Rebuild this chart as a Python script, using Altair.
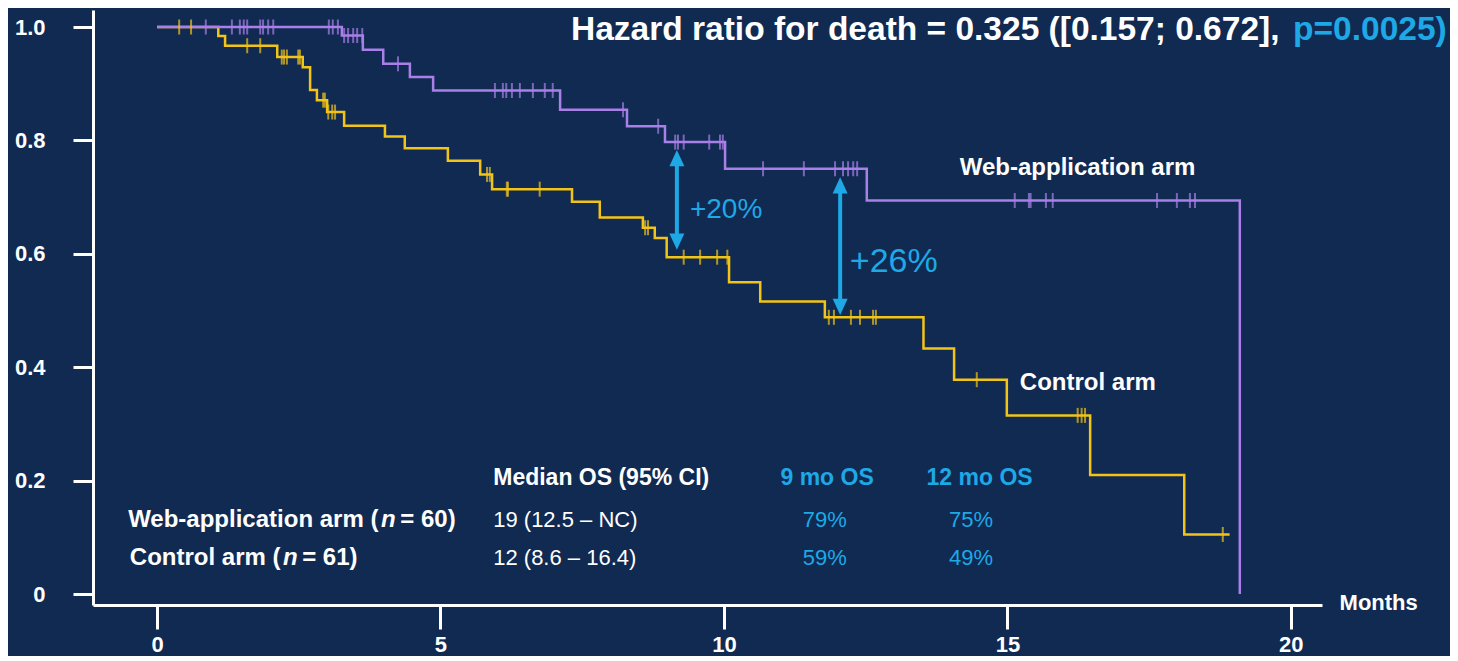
import altair as alt
import pandas as pd
from bisect import bisect_right

BG = "#112a52"
PURPLE = "#a97fe8"
GOLD = "#f2c417"
BLUE = "#1ea8e6"
WHITE = "#ffffff"
FONT = "Liberation Sans"

# ---- Kaplan-Meier step data (months, survival) ----
web_times = [0, 3.26, 3.63, 3.99, 4.46, 4.87, 7.11, 8.29, 8.96, 10.02, 12.52, 19.10]
web_surv = [1.0, 0.985, 0.96, 0.935, 0.912, 0.888, 0.854, 0.825, 0.797, 0.75, 0.694, 0.0]
web_censor = [0.86, 1.32, 1.46, 1.53, 1.59, 1.82, 1.87, 1.96, 2.05, 3.03, 3.10, 3.19,
              3.30, 3.37, 3.46, 3.53, 3.62, 4.25,
              5.96, 6.10, 6.16, 6.26, 6.40, 6.63, 6.84, 6.98, 8.22, 8.84,
              9.14, 9.19, 9.29, 9.74, 9.93, 9.98,
              10.69, 11.41, 11.96, 12.10, 12.19, 12.28, 12.35,
              15.13, 15.38, 15.41, 15.68, 15.80, 17.64, 17.99, 18.22, 18.31]

ctl_times = [0, 1.08, 1.20, 2.12, 2.57, 2.70, 2.82, 3.00, 3.30, 4.02, 4.37, 5.13, 5.70,
             5.91, 7.32, 7.81, 8.57, 8.78, 8.99, 10.09, 10.64, 11.78, 13.52, 14.06,
             14.99, 16.46, 18.12, 18.92]
ctl_surv = [1.0, 0.984, 0.967, 0.947, 0.929, 0.889, 0.871, 0.85, 0.826, 0.807, 0.786,
            0.764, 0.74, 0.714, 0.692, 0.664, 0.646, 0.628, 0.594, 0.55, 0.516, 0.488,
            0.433, 0.378, 0.315, 0.21, 0.105, 0.105]
ctl_censor = [0.39, 0.60, 1.59, 1.82, 2.20, 2.24, 2.29, 2.49, 2.52, 2.93, 2.96,
              3.02, 3.09, 3.14, 5.82, 5.87, 6.17, 6.19, 6.75, 8.61, 8.66,
              9.29, 9.58, 9.88, 10.06, 11.85, 11.94, 12.24, 12.40, 12.63, 12.68,
              14.46, 16.24, 16.31, 16.37, 18.80]

x_ticks = [0, 5, 10, 15, 20]
y_ticks = [0, 0.2, 0.4, 0.6, 0.8, 1.0]

# ---- arrows: x, top tip, bottom tip ----
arrow_x = [9.17, 12.05]
arrow_top = [0.783, 0.735]
arrow_bot = [0.607, 0.492]


def step_value(times, surv, t):
    i = bisect_right(times, t) - 1
    return surv[max(i, 0)]


curve_df = pd.DataFrame(
    [{"arm": "web", "t": t, "s": s} for t, s in zip(web_times, web_surv)]
    + [{"arm": "ctl", "t": t, "s": s} for t, s in zip(ctl_times, ctl_surv)]
)
web_c = pd.DataFrame({"t": web_censor, "s": [step_value(web_times, web_surv, t) for t in web_censor]})
ctl_c = pd.DataFrame({"t": ctl_censor, "s": [step_value(ctl_times, ctl_surv, t) for t in ctl_censor]})

XS = alt.Scale(domain=[-1.13, 20.55], nice=False, zero=False)
YS = alt.Scale(domain=[-0.0194, 1.03], nice=False, zero=False)


def line(arm, color):
    return alt.Chart(curve_df[curve_df.arm == arm]).mark_line(
        interpolate="step-after", color=color, strokeWidth=2.5
    ).encode(
        x=alt.X("t:Q", scale=XS,
                axis=alt.Axis(values=x_ticks, title=None, tickSize=24, labelPadding=5,
                              labelFontSize=22, labelFont=FONT, labelFontWeight="bold",
                              labelColor=WHITE, domainColor=WHITE, domainWidth=3,
                              tickColor=WHITE, tickWidth=3, grid=False, labelFlush=False,
                              format="d")),
        y=alt.Y("s:Q", scale=YS,
                axis=alt.Axis(values=y_ticks, title=None, tickSize=20, labelPadding=28,
                              labelFontSize=22, labelFont=FONT, labelFontWeight="bold",
                              labelColor=WHITE, domainColor=WHITE, domainWidth=3,
                              tickColor=WHITE, tickWidth=3, grid=False, labelFlush=False,
                              labelExpr="datum.value == 0 ? '0' : format(datum.value, '.1f')")),
        order="t:Q",
    )


def ticks(df, color):
    return alt.Chart(df).mark_tick(orient="vertical", color=color, size=15, thickness=2).encode(
        x=alt.X("t:Q", scale=XS), y=alt.Y("s:Q", scale=YS)
    )


arrow_df = pd.DataFrame({"x": arrow_x, "top": arrow_top, "bot": arrow_bot})
arrow_df["top_in"] = arrow_df["top"] - 0.02
arrow_df["bot_in"] = arrow_df["bot"] + 0.02
shaft = alt.Chart(arrow_df).mark_rule(color=BLUE, strokeWidth=4).encode(
    x=alt.X("x:Q", scale=XS), y=alt.Y("top_in:Q", scale=YS), y2="bot_in:Q")
head_up = alt.Chart(arrow_df).mark_point(
    shape="M0,0L-1.2,2.6L1.2,2.6Z", filled=True, opacity=1, color=BLUE, size=156, strokeWidth=0
).encode(x=alt.X("x:Q", scale=XS), y=alt.Y("top:Q", scale=YS))
head_dn = alt.Chart(arrow_df).mark_point(
    shape="M0,0L-1.2,-2.6L1.2,-2.6Z", filled=True, opacity=1, color=BLUE, size=156, strokeWidth=0
).encode(x=alt.X("x:Q", scale=XS), y=alt.Y("bot:Q", scale=YS))


def txt(rows, size, color, weight="bold", align="left", style="normal"):
    df = pd.DataFrame(rows, columns=["x", "y", "label"])
    return alt.Chart(df).mark_text(
        font=FONT, fontSize=size, color=color, fontWeight=weight, align=align,
        baseline="middle", fontStyle=style
    ).encode(x=alt.X("x:Q", scale=XS), y=alt.Y("y:Q", scale=YS), text="label:N")


texts = [
    txt([(19.80, 0.995, "Hazard ratio for death = 0.325 ([0.157; 0.672],")], 33.5, WHITE, align="right"),
    txt([(22.75, 0.995, "p=0.0025)")], 33.5, BLUE, align="right"),
    txt([(14.16, 0.751, "Web-application arm"), (15.22, 0.372, "Control arm")], 24, WHITE),
    txt([(5.93, 0.205, "Median OS (95% CI)")], 23, WHITE),
    txt([(11.82, 0.205, "9 mo OS"), (14.51, 0.205, "12 mo OS")], 23, BLUE, align="center"),
    txt([(-0.51, 0.131, "Web-application arm ("), (-0.48, 0.063, "Control arm (")], 24, WHITE),
    txt([(3.95, 0.131, "n"), (2.22, 0.063, "n")], 24, WHITE, style="italic"),
    txt([(4.29, 0.131, "= 60)"), (2.56, 0.063, "= 61)")], 24, WHITE),
    txt([(5.93, 0.131, "19 (12.5 \u2013 NC)"), (5.93, 0.063, "12 (8.6 \u2013 16.4)")], 22, WHITE, weight="normal"),
    txt([(11.78, 0.131, "79%"), (14.36, 0.131, "75%"), (11.78, 0.063, "59%"), (14.36, 0.063, "49%")],
        22, BLUE, weight="normal", align="center"),
    txt([(9.40, 0.677, "+20%")], 28, BLUE, weight="normal"),
    txt([(12.22, 0.586, "+26%")], 34, BLUE, weight="normal"),
    txt([(20.86, -0.016, "Months")], 22, WHITE),
]

chart = alt.layer(
    line("ctl", GOLD), line("web", PURPLE),
    ticks(ctl_c, GOLD), ticks(web_c, PURPLE),
    shaft, head_up, head_dn, *texts
).properties(
    width=1229, height=595,
    padding={"left": 85, "top": 2, "right": 128, "bottom": 51},
    autosize=alt.AutoSizeParams(type="none"),
).configure(background=BG).configure_view(stroke=None)

chart.save("out.html", embed_options={"renderer": "svg", "actions": False})
